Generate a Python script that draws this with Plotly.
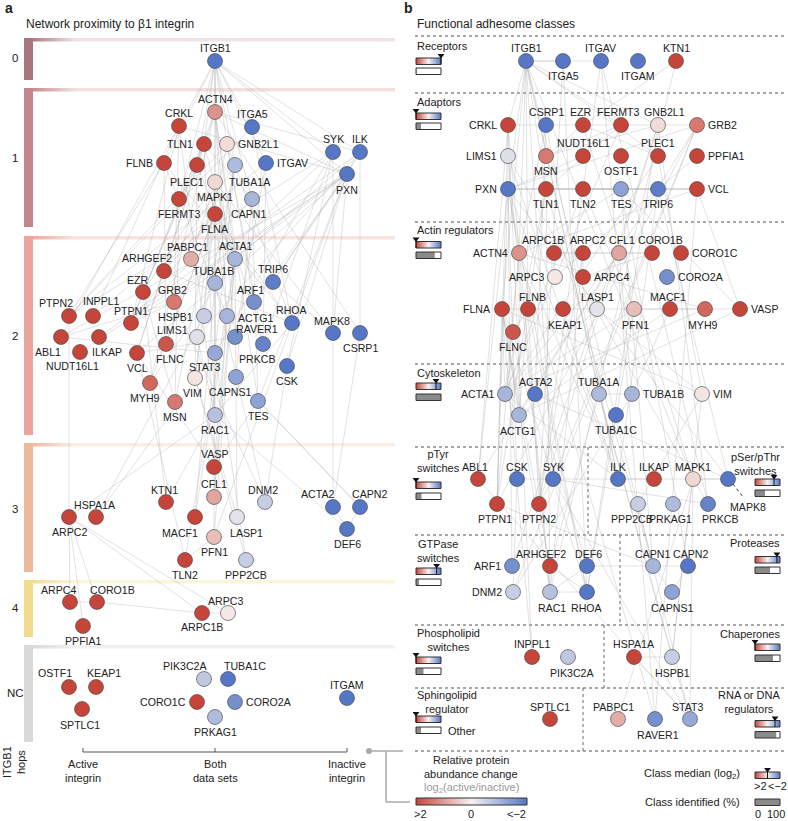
import plotly.graph_objects as go

# ---------------- data ----------------
proteins = ["ITGB1", "ITGA5", "ITGAV", "ITGAM", "KTN1", "ACTN4", "CRKL", "TLN1", "GNB2L1", "SYK",
            "ILK", "FLNB", "PLEC1", "TUBA1A", "PXN", "MAPK1", "FERMT3", "FLNA", "CAPN1", "PABPC1",
            "ACTA1", "ARHGEF2", "TUBA1B", "TRIP6", "EZR", "GRB2", "ARF1", "PTPN2", "INPPL1", "PTPN1",
            "HSPB1", "ACTG1", "RHOA", "MAPK8", "CSRP1", "ABL1", "ILKAP", "LIMS1", "RAVER1", "NUDT16L1",
            "FLNC", "VCL", "PRKCB", "STAT3", "CSK", "VIM", "CAPNS1", "MYH9", "TES", "MSN",
            "RAC1", "VASP", "CFL1", "DNM2", "ACTA2", "CAPN2", "HSPA1A", "ARPC2", "MACF1", "LASP1",
            "DEF6", "PFN1", "TLN2", "PPP2CB", "ARPC4", "CORO1B", "ARPC1B", "ARPC3", "PPFIA1", "OSTF1",
            "KEAP1", "SPTLC1", "PIK3C2A", "TUBA1C", "CORO1C", "CORO2A", "PRKAG1"]
log2_ratio = [-2.2, -2.1, -2.1, -2.1, 2.2, 1.1, 2.2, 2.2, 0.25, -2.2,
              -2.2, 2.2, 2.2, -0.9, -2.2, 0.3, 2.2, 2.2, -1.0, 0.8,
              -1.0, 2.2, -1.0, -1.9, 2.2, 1.4, -1.6, 2.2, 2.2, 2.2,
              -0.6, -1.0, -2.2, -2.0, -2.2, 2.2, 2.2, -0.3, -1.6, 2.2,
              1.8, 2.2, -1.8, -1.2, -2.2, 0.15, -1.3, 1.6, -1.3, 1.4,
              -0.8, 2.2, 0.9, -0.6, -2.2, -2.2, 2.2, 2.2, 2.2, -0.25,
              -2.2, 0.6, 2.2, -0.6, 2.2, 2.2, 2.2, 0.1, 2.2, 2.2,
              2.2, 2.2, -0.7, -2.2, 2.2, -1.6, -0.9]

hop_labels = ["0", "1", "2", "3", "4", "NC"]

class_names = ["Receptors", "Adaptors", "Actin regulators", "Cytoskeleton", "pTyr<br>switches",
               "pSer/pThr<br>switches", "GTPase<br>switches", "Proteases", "Phospholipid<br>switches",
               "Chaperones", "Sphingolipid<br>regulator", "RNA or DNA<br>regulators"]
class_median_log2 = [-2.0, 2.0, 2.0, -1.2, 2.0, -1.05, -1.3, -1.5, 2.0, 2.0, 2.0, -1.2]
class_identified_pct = [2, 20, 75, 100, 22, 40, 12, 60, 30, 72, 20, 85]

edges = [
    ("ITGB1", "ACTN4"), ("ITGB1", "CRKL"), ("ITGB1", "ITGA5"), ("ITGB1", "TLN1"), ("ITGB1", "GNB2L1"),
    ("ITGB1", "SYK"), ("ITGB1", "ILK"), ("ITGB1", "FLNB"), ("ITGB1", "PLEC1"), ("ITGB1", "ITGAV"),
    ("ITGB1", "PXN"), ("ITGB1", "TUBA1A"), ("ITGB1", "MAPK1"), ("ITGB1", "CAPN1"), ("ITGB1", "FERMT3"),
    ("ITGB1", "FLNA"),
    ("ACTN4", "ACTA1"), ("ACTN4", "ACTG1"), ("ACTN4", "VCL"), ("ACTN4", "CSRP1"), ("ACTN4", "RAVER1"),
    ("ACTN4", "TES"), ("ACTN4", "PXN"), ("ACTN4", "ILK"), ("ACTN4", "PTPN1"), ("ACTN4", "MYH9"),
    ("TLN1", "VCL"), ("TLN1", "FERMT3"), ("TLN1", "CAPN1"), ("TLN1", "ACTA1"), ("TLN1", "RAC1"),
    ("TLN1", "PTPN1"),
    ("CRKL", "ABL1"), ("CRKL", "GRB2"), ("CRKL", "PXN"), ("CRKL", "RAC1"), ("CRKL", "PTPN1"),
    ("CRKL", "INPPL1"),
    ("SYK", "GRB2"), ("SYK", "CSK"), ("SYK", "STAT3"), ("SYK", "PTPN2"), ("SYK", "PRKCB"), ("SYK", "MAPK8"),
    ("ILK", "LIMS1"), ("ILK", "ILKAP"), ("ILK", "PXN"), ("ILK", "ACTA1"), ("ILK", "TRIP6"), ("ILK", "CSRP1"),
    ("PXN", "VCL"), ("PXN", "CSK"), ("PXN", "ABL1"), ("PXN", "GRB2"), ("PXN", "TES"), ("PXN", "ARF1"),
    ("PXN", "PTPN1"), ("PXN", "MAPK8"), ("PXN", "NUDT16L1"), ("PXN", "TRIP6"), ("PXN", "RHOA"),
    ("FLNA", "ACTA1"), ("FLNA", "ACTG1"), ("FLNA", "RHOA"), ("FLNA", "VIM"), ("FLNA", "FLNC"),
    ("FLNA", "MYH9"), ("FLNA", "RAC1"), ("FLNA", "INPPL1"), ("FLNA", "ARHGEF2"), ("FLNA", "PTPN1"),
    ("FLNB", "FLNC"), ("FLNB", "ACTG1"), ("FLNB", "RHOA"), ("FLNB", "PTPN2"),
    ("PLEC1", "VIM"), ("PLEC1", "ACTA1"), ("PLEC1", "EZR"),
    ("GNB2L1", "RHOA"), ("GNB2L1", "PTPN2"), ("GNB2L1", "PRKCB"), ("GNB2L1", "ARF1"), ("GNB2L1", "MSN"),
    ("TUBA1A", "TUBA1B"), ("TUBA1A", "ARHGEF2"), ("TUBA1A", "HSPB1"), ("TUBA1A", "STAT3"),
    ("MAPK1", "STAT3"), ("MAPK1", "MAPK8"), ("MAPK1", "PRKCB"), ("MAPK1", "HSPB1"), ("MAPK1", "PABPC1"),
    ("MAPK1", "EZR"), ("MAPK1", "LIMS1"),
    ("CAPN1", "CAPNS1"), ("CAPN1", "PTPN1"), ("CAPN1", "TES"),
    ("FERMT3", "ACTA1"), ("FERMT3", "MSN"), ("ITGA5", "PTPN2"), ("ITGA5", "RHOA"),
    ("ITGAV", "PTPN2"), ("ITGAV", "PRKCB"), ("ITGAV", "RAVER1"),
    ("EZR", "MSN"), ("GRB2", "PTPN1"), ("GRB2", "ABL1"), ("ACTA1", "ACTG1"), ("ACTA1", "MYH9"),
    ("RAC1", "RHOA"), ("RHOA", "ARHGEF2"), ("RAVER1", "VCL"), ("TRIP6", "MAPK8"), ("VIM", "HSPB1"),
    ("STAT3", "ABL1"), ("LIMS1", "RAC1"),
    ("VASP", "VCL"), ("VASP", "ACTG1"), ("VASP", "PFN1"), ("VASP", "TES"), ("CFL1", "ACTA1"),
    ("CFL1", "ACTG1"), ("CFL1", "TUBA1B"), ("DNM2", "GRB2"), ("DNM2", "TUBA1B"), ("DNM2", "CSK"),
    ("ACTA2", "CSRP1"), ("ACTA2", "MAPK8"), ("ACTA2", "DEF6"), ("CAPN2", "CAPNS1"), ("CAPN2", "TES"),
    ("CAPN2", "DEF6"), ("DEF6", "RAC1"), ("HSPA1A", "HSPB1"), ("HSPA1A", "STAT3"), ("ARPC2", "RAC1"),
    ("ARPC2", "PTPN2"), ("KTN1", "RAC1"), ("KTN1", "EZR"), ("MACF1", "ACTG1"), ("MACF1", "TUBA1B"),
    ("LASP1", "VIM"), ("LASP1", "ACTA1"), ("PFN1", "ACTA1"), ("PFN1", "RHOA"), ("TLN2", "VCL"),
    ("TLN2", "ACTA1"), ("TLN2", "PFN1"), ("PPP2CB", "VIM"), ("PPP2CB", "STAT3"),
    ("ARPC4", "ARPC2"), ("CORO1B", "ARPC2"), ("ARPC1B", "ARPC2"), ("ARPC3", "ARPC2"),
    ("ARPC4", "CORO1B"), ("ARPC1B", "ARPC3"), ("CORO1B", "ARPC1B"), ("PPFIA1", "ARPC2"),
]

# ---------------- layout helpers (positions / label placement) ----------------
T = ("c", 0, -13.5)
B = ("c", 0, 15)
L = ("r", -9, 0)
R = ("l", 9, 0)

layout_a = {
    "ITGB1": (215, 61, T), "ACTN4": (215, 112, T), "ITGA5": (252, 127, T), "CRKL": (179, 126, T),
    "TLN1": (204, 144, L), "GNB2L1": (227, 144, R), "SYK": (333, 152, T), "ILK": (360, 152, T),
    "FLNB": (164, 163, L), "PLEC1": (197, 165, ("c", -10, 17)), "TUBA1A": (235, 165, ("c", 15, 17)),
    "ITGAV": (266, 163, R), "PXN": (347, 174, ("c", 0, 16)), "MAPK1": (215, 182, B),
    "FERMT3": (179, 199, B), "FLNA": (215, 214, B), "CAPN1": (252, 199, ("c", -4, 15)),
    "PABPC1": (191, 259, ("c", -4, -12.5)), "ACTA1": (235, 259, T), "ARHGEF2": (164, 271, ("c", -17, -13)),
    "TUBA1B": (215, 283, ("c", -2, -12)), "TRIP6": (273, 282, T), "EZR": (143, 292, ("c", -5, -12)),
    "GRB2": (174, 302, ("c", -2, -12.5)), "ARF1": (254, 302, ("c", -4, -12.5)),
    "PTPN2": (69, 316, ("c", -13, -13)), "INPPL1": (93, 316, ("c", 8, -15)),
    "PTPN1": (131, 323, ("c", 0, -12)), "HSPB1": (204, 316, ("r", -9, 1)), "ACTG1": (227, 316, ("l", 9, 2)),
    "RHOA": (292, 323, T), "MAPK8": (333, 333, ("c", -1, -12.5)), "CSRP1": (360, 333, B),
    "ABL1": (61, 337, ("c", -13, 15)), "ILKAP": (99, 337, ("c", 8, 15)), "LIMS1": (197, 337, ("c", -25, -7.5)),
    "RAVER1": (235, 337, ("c", 22, -8)), "NUDT16L1": (80, 352, ("c", -8, 14)), "FLNC": (166, 344, ("c", 4, 15)),
    "VCL": (137, 353, B), "PRKCB": (263, 344, ("c", -6, 15)), "STAT3": (215, 353, ("c", -10, 14)),
    "CSK": (287, 366, B), "VIM": (195, 378, ("c", -3, 15)), "CAPNS1": (236, 377, ("c", -6, 15)),
    "MYH9": (150, 383, ("c", -5, 15)), "TES": (258, 401, B), "MSN": (175, 402, B), "RAC1": (215, 415, B),
    "VASP": (214, 467, T), "KTN1": (166, 502, ("c", -2, -12.5)), "CFL1": (214, 497, T),
    "DNM2": (265, 502, ("c", -2, -12.5)), "ACTA2": (333, 507, ("c", -16, -13)), "CAPN2": (360, 507, ("c", 9, -13)),
    "HSPA1A": (96, 517, ("c", -1, -12.5)), "ARPC2": (69, 517, B), "MACF1": (195, 517, ("c", -15, 16)),
    "LASP1": (237, 517, ("c", 9, 16)), "DEF6": (347, 529, B), "PFN1": (214, 537, B),
    "TLN2": (185, 560, B), "PPP2CB": (246, 560, B),
    "ARPC4": (70, 602, ("c", -12, -12.5)), "CORO1B": (97, 602, ("c", 15, -12.5)),
    "ARPC1B": (202, 613, ("c", 0, 13.5)), "ARPC3": (228, 613, ("c", -3, -12)), "PPFIA1": (83, 626, B),
    "OSTF1": (69, 687, ("c", -14, -14)), "KEAP1": (96, 687, ("c", 8, -14)), "SPTLC1": (82, 709, ("c", -2, 16)),
    "PIK3C2A": (204, 679, ("c", -19, -13)), "TUBA1C": (228, 679, ("c", 17, -13)),
    "CORO1C": (197, 702, L), "CORO2A": (235, 702, R), "PRKAG1": (215, 717, B), "ITGAM": (347, 698, T),
}

layout_b = {
    "ITGB1": (526, 61, T), "ITGA5": (563, 61, B), "ITGAV": (601, 61, T), "ITGAM": (638, 61, B), "KTN1": (676, 61, T),
    "CRKL": (508, 125, L), "CSRP1": (546, 125, T), "EZR": (583, 125, ("c", -2, -13.5)),
    "FERMT3": (621, 125, ("c", -3, -13.5)),
    "GNB2L1": (658, 125, ("c", 6, -13.5)), "GRB2": (697, 125, R),
    "LIMS1": (508, 156, L), "MSN": (546, 156, B), "NUDT16L1": (583, 156, T), "OSTF1": (621, 156, B),
    "PLEC1": (658, 156, T), "PPFIA1": (697, 156, R),
    "PXN": (508, 189, L), "TLN1": (546, 189, B), "TLN2": (583, 189, B), "TES": (621, 189, B),
    "TRIP6": (658, 189, B), "VCL": (697, 189, R),
    "ACTN4": (519, 253, L), "ARPC1B": (554, 253, ("c", -11, -13)), "ARPC2": (583, 253, ("c", 4, -13)),
    "CFL1": (619, 253, ("c", 3, -13)), "CORO1B": (652, 253, ("c", 8, -13)), "CORO1C": (681, 253, R),
    "ARPC3": (555, 277, L), "ARPC4": (583, 277, R), "CORO2A": (667, 277, R),
    "FLNA": (502, 309, L), "FLNB": (528, 309, ("c", 4, -12.5)), "KEAP1": (563, 309, ("c", 2, 16)),
    "LASP1": (597, 309, ("c", 0, -12.5)), "PFN1": (634, 309, ("c", 1, 16)), "MACF1": (670, 309, ("c", -2, -12.5)),
    "MYH9": (705, 309, ("c", -2, 16)), "VASP": (740, 309, R), "FLNC": (513, 332, B),
    "ACTA1": (505, 394, L), "ACTA2": (535, 394, ("c", 0, -12.5)), "TUBA1A": (599, 394, ("c", 0, -12.5)),
    "TUBA1B": (632, 394, R), "VIM": (702, 394, R), "ACTG1": (519, 415, ("c", -2, 16)), "TUBA1C": (616, 415, B),
    "ABL1": (478, 479, ("c", -3, -12.5)), "CSK": (517, 479, ("c", 0, -12.5)), "SYK": (553, 479, ("c", 0, -12.5)),
    "PTPN1": (497, 504, ("c", -2, 15)), "PTPN2": (539, 504, B),
    "ILK": (618, 479, ("c", 0, -12.5)), "ILKAP": (654, 479, ("c", 0, -12.5)), "MAPK1": (693, 479, ("c", 0, -12.5)),
    "MAPK8": (728, 479, ("c", 20, 28)),
    "PPP2CB": (638, 504, ("c", -6, 15)), "PRKAG1": (673, 504, ("c", -3, 15)), "PRKCB": (708, 504, ("c", 12, 15)),
    "ARF1": (512, 566, L), "ARHGEF2": (550, 566, ("c", -9, -12.5)), "DEF6": (587, 566, ("c", 1, -12.5)),
    "DNM2": (513, 592, L), "RAC1": (550, 592, ("c", 2, 16)), "RHOA": (587, 592, ("c", 0, 16)),
    "CAPN1": (653, 566, ("c", -1, -12.5)), "CAPN2": (688, 566, ("c", 2, -12.5)), "CAPNS1": (672, 592, ("c", 0, 16)),
    "INPPL1": (532, 657, T), "PIK3C2A": (568, 657, ("c", 4, 16)),
    "HSPA1A": (634, 657, T), "HSPB1": (672, 657, ("c", 0, 16)),
    "SPTLC1": (550, 719, ("c", 0, -12.5)),
    "PABPC1": (618, 719, ("c", -5, -12.5)), "RAVER1": (655, 719, ("c", 3, 16)), "STAT3": (690, 719, ("c", -2, -12.5)),
}

bands = [  # y top, y bottom, bar colour, tint
    (38, 80, "#a7767c", "#efe3e4"),
    (88, 227, "#c4868c", "#f3dfe0"),
    (236, 435, "#eaa69d", "#f9e3df"),
    (443, 572, "#ecb99c", "#faeee4"),
    (580, 637, "#f1dc8e", "#fbf5dc"),
    (645, 742, "#d9d9d9", "#f0f0f0"),
]
band_label_y = [58, 158, 336, 509, 608, 693]

# class legend placement: label x, label y, anchor, bar x0, colour-bar y0, ident-bar y0
class_legend = [
    (415, 46, "left", 416, 58, 68),
    (415, 102, "left", 416, 113, 123),
    (415, 230, "left", 416, 241.5, 252),
    (415, 373, "left", 416, 383, 394),
    (415, 461, "left", 416, 482, 493),
    (782, 464, "right", 755, 479, 490),
    (415, 551, "left", 416, 568, 579),
    (782, 543, "right", 755, 556.5, 567),
    (415, 640, "left", 416, 657, 668),
    (782, 634, "right", 755, 644, 655),
    (415, 702, "left", 416, 716, 727),
    (782, 702, "right", 755, 720.5, 731.5),
]

FONT = "Liberation Sans, Arial, sans-serif"
LABEL_SIZE = 10.6
RED, WHITE, BLUE = "#c6453a", "#f7f2f0", "#5677c6"
node_cs = [[0, BLUE], [0.5, WHITE], [1, RED]]
bar_cs = [[0, RED], [0.5, WHITE], [1, BLUE]]

val = dict(zip(proteins, log2_ratio))

fig = go.Figure()
shapes = []
annotations = []


def text(x, y, s, size=11, xanchor="center", color="#222", **kw):
    annotations.append(dict(x=x, y=y, xref="x", yref="y", text=s, showarrow=False,
                            xanchor=xanchor, yanchor="middle",
                            font=dict(family=FONT, size=size, color=color), **kw))


def grad_rect(x0, x1, y0, y1, cs, start=None, stop=None):
    fg = dict(type="horizontal", colorscale=cs)
    if start is not None:
        fg["start"] = start
        fg["stop"] = stop
    fig.add_trace(go.Scatter(x=[x0, x1, x1, x0, x0], y=[y0, y0, y1, y1, y0], mode="lines",
                             fill="toself", fillgradient=fg,
                             line=dict(width=0, color="rgba(0,0,0,0)"),
                             hoverinfo="skip", showlegend=False))


def rect(x0, y0, x1, y1, fill="rgba(0,0,0,0)", lc="rgba(0,0,0,0)", lw=0, layer="above"):
    shapes.append(dict(type="rect", xref="x", yref="y", x0=x0, y0=y0, x1=x1, y1=y1,
                       fillcolor=fill, line=dict(color=lc, width=lw), layer=layer))


def line(x0, y0, x1, y1, color="#888", width=1, dash="solid", layer="above"):
    shapes.append(dict(type="line", xref="x", yref="y", x0=x0, y0=y0, x1=x1, y1=y1,
                       line=dict(color=color, width=width, dash=dash), layer=layer))


# ---------------- panel a: hop bands ----------------
for (y0, y1, col, tint), lab, ly in zip(bands, hop_labels, band_label_y):
    rect(24, y0, 33, y1, fill=col, layer="below")
    grad_rect(24, 395, y0, y0 + 3.5, [[0, col], [1, tint]], start=30, stop=75)
    text(15, ly, lab, size=11.5)

# ---------------- edges ----------------
for lay in (layout_a, layout_b):
    ex, ey = [], []
    for a, b in edges:
        ex += [lay[a][0], lay[b][0], None]
        ey += [lay[a][1], lay[b][1], None]
    fig.add_trace(go.Scatter(x=ex, y=ey, mode="lines",
                             line=dict(color="rgba(175,175,175,0.45)", width=0.8),
                             hoverinfo="skip", showlegend=False))

# ---------------- nodes + labels ----------------
for lay in (layout_a, layout_b):
    names = list(lay.keys())
    fig.add_trace(go.Scatter(
        x=[lay[n][0] for n in names], y=[lay[n][1] for n in names], mode="markers",
        marker=dict(size=15, color=[val[n] for n in names], colorscale=node_cs, cmin=-2, cmax=2,
                    line=dict(color="rgba(70,70,70,0.8)", width=0.8)),
        text=names, hoverinfo="text", showlegend=False))
    for n in names:
        x, y, (anc, dx, dy) = lay[n]
        xa = {"c": "center", "l": "left", "r": "right"}[anc]
        text(x + dx, y + dy, n, size=LABEL_SIZE, xanchor=xa)

# MAPK8 leader line (panel b)
line(733, 484, 743, 497, color="#333", width=1, dash="dot")

# ---------------- panel a titles and axis ----------------
text(3, 8, "<b>a</b>", size=14, xanchor="left")
text(24, 24, "Network proximity to β1 integrin", size=12, xanchor="left")
line(83, 752, 347, 752, color="#555", width=1)
for tx, lab in zip([83, 215, 347], ["Active<br>integrin", "Both<br>data sets", "Inactive<br>integrin"]):
    line(tx, 748, tx, 752, color="#555", width=1)
    text(tx, 771, lab, size=11)
annotations.append(dict(x=14, y=762, xref="x", yref="y", text="ITGB1<br>hops", showarrow=False,
                        textangle=-90, font=dict(family=FONT, size=11, color="#222")))

# connector between panels
line(369, 751, 403, 751, color="#aaa", width=1.5)
line(386, 751, 386, 802, color="#aaa", width=1.5)
line(386, 802, 410, 802, color="#aaa", width=1.5)
fig.add_trace(go.Scatter(x=[369], y=[751], mode="markers", marker=dict(size=6, color="#aaa"),
                         hoverinfo="skip", showlegend=False))

# ---------------- panel b ----------------
text(402, 8, "<b>b</b>", size=14, xanchor="left")
text(415, 24, "Functional adhesome classes", size=12, xanchor="left")
for y in [36, 93, 222, 364, 447, 535, 625, 688, 751]:
    line(415, y, 786, y, color="#8c8c8c", width=1.3, dash="dot", layer="below")
for x, y0, y1 in [(588, 447, 535), (620, 535, 625), (604, 625, 688), (583, 688, 751)]:
    line(x, y0, x, y1, color="#8c8c8c", width=1.3, dash="dot", layer="below")

BW, BH = 25, 6.5


def mini_bars(x0, cy0, gy0, median, pct):
    grad_rect(x0, x0 + BW, cy0, cy0 + BH, bar_cs)
    rect(x0, cy0, x0 + BW, cy0 + BH, lc="#333", lw=1)
    if gy0 is not None:
        rect(x0, gy0, x0 + BW, gy0 + BH, fill="white")
        rect(x0, gy0, x0 + BW * pct / 100, gy0 + BH, fill="#8a8a8a")
        rect(x0, gy0, x0 + BW, gy0 + BH, lc="#333", lw=1)
    if median is not None:
        mx = x0 + BW * (2 - max(-2, min(2, median))) / 4
        line(mx, cy0 - 1, mx, cy0 + BH, color="#111", width=1)
        fig.add_trace(go.Scatter(x=[mx], y=[cy0 - 2.5], mode="markers",
                                 marker=dict(symbol="triangle-down", size=6, color="#111"),
                                 hoverinfo="skip", showlegend=False))


for name, med, pct, (lx, ly, anc, bx, cy, gy) in zip(class_names, class_median_log2,
                                                      class_identified_pct, class_legend):
    text(lx, ly, name, size=11, xanchor=anc)
    mini_bars(bx, cy, gy, med, pct)
text(446, 731, "Other", size=11, xanchor="left")

# ---------------- bottom legends ----------------
text(471, 760, "Relative protein", size=11)
text(471, 774, "abundance change", size=11)
text(471, 788, "log<sub>2</sub>(active/inactive)", size=11, color="#999")
grad_rect(416, 527, 798, 805, bar_cs)
rect(416, 798, 527, 805, lc="#333", lw=1)
text(420, 814, ">2", size=11)
text(471, 814, "0", size=11)
text(516, 814, "<−2", size=11)

text(742, 774, "Class median (log<sub>2</sub>)", size=11, xanchor="right")
mini_bars(755, 772, None, 0, 0)
text(760, 786, ">2", size=11)
text(777, 786, "<−2", size=11)
text(742, 802, "Class identified (%)", size=11, xanchor="right")
rect(755, 799, 780, 805.5, fill="#8a8a8a", lc="#333", lw=1)
text(758, 814, "0", size=11)
text(776, 814, "100", size=11)

fig.update_layout(
    width=788, height=821, margin=dict(l=0, r=0, t=0, b=0),
    paper_bgcolor="white", plot_bgcolor="white",
    xaxis=dict(range=[0, 788], visible=False, fixedrange=True),
    yaxis=dict(range=[821, 0], visible=False, fixedrange=True),
    shapes=shapes, annotations=annotations, showlegend=False,
)
fig.write_html("out.html", config={"displayModeBar": False},
               post_script="document.body.style.margin='0px';document.body.style.overflow='hidden';")
